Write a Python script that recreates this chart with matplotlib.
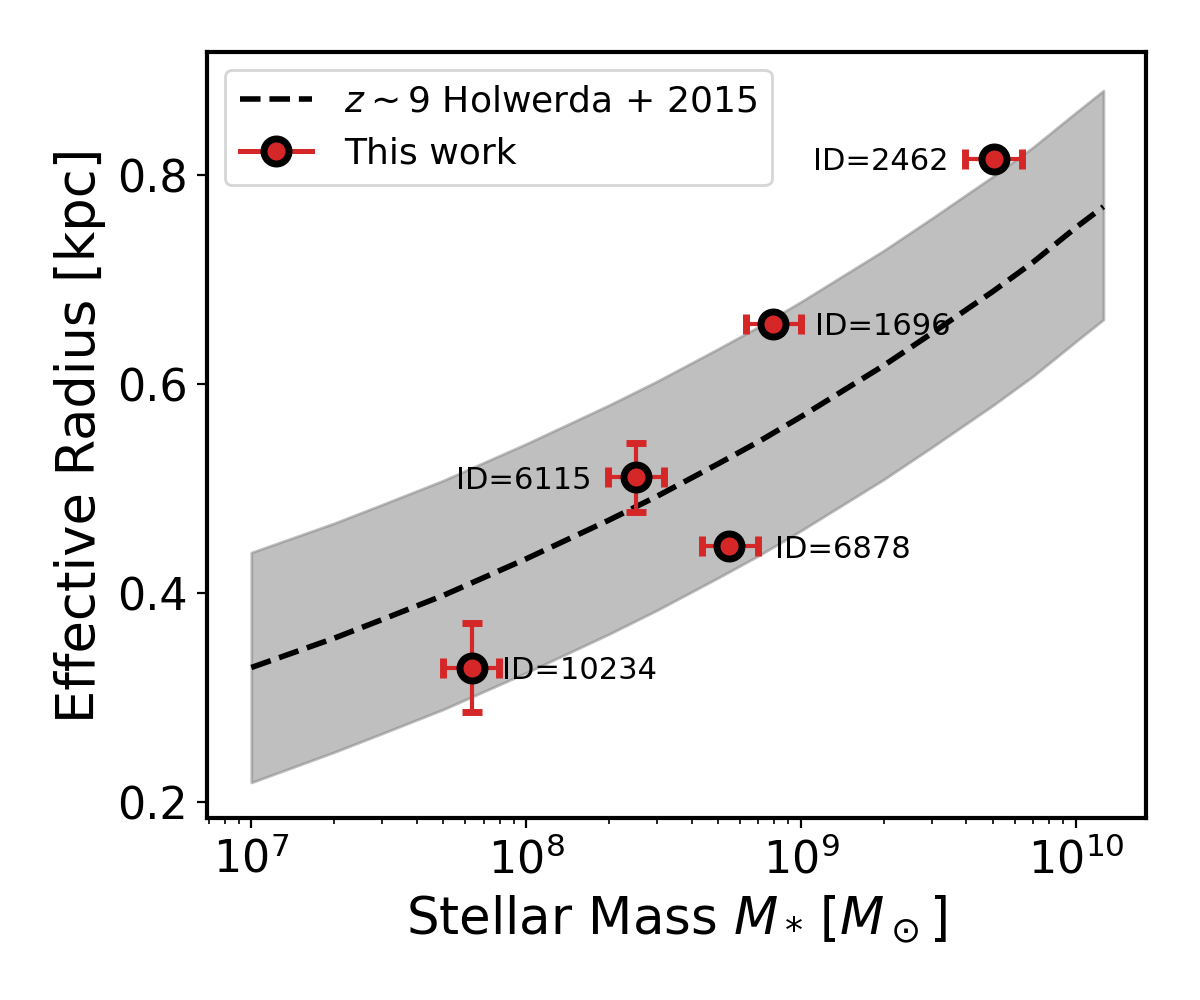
import numpy as np
import matplotlib
matplotlib.use("Agg")
import matplotlib.pyplot as plt

# Holwerda+2015 z~9 relation
rel_mass = [1e7, 2e7, 3e7, 5e7, 1e8, 2e8, 3e8, 5e8, 7e8, 1e9, 2e9, 3e9, 5e9, 7e9, 1e10, 1.26e10]
rel_radius = [0.329, 0.357, 0.375, 0.398, 0.433, 0.470, 0.493, 0.524, 0.545,
              0.569, 0.618, 0.649, 0.689, 0.717, 0.750, 0.770]
rel_upper = [0.439, 0.467, 0.485, 0.508, 0.543, 0.580, 0.603, 0.634, 0.655,
             0.679, 0.728, 0.759, 0.799, 0.827, 0.860, 0.881]
rel_lower = [0.219, 0.248, 0.266, 0.289, 0.324, 0.361, 0.384, 0.415, 0.436,
             0.460, 0.509, 0.540, 0.580, 0.608, 0.641, 0.662]

# our galaxies
ids = ["ID=10234", "ID=6115", "ID=1696", "ID=6878", "ID=2462"]
mass = [6.35e7, 2.51e8, 7.93e8, 5.48e8, 5.04e9]
mass_lo = [4.97e7, 1.98e8, 6.30e8, 4.37e8, 3.96e9]
mass_hi = [7.98e7, 3.18e8, 1.00e9, 6.96e8, 6.35e9]
radius = [0.329, 0.511, 0.658, 0.445, 0.816]
radius_err = [0.043, 0.033, 0.0, 0.0, 0.0]

# label offsets (points) and alignment
lab_dx = [11, -16, 15, 16.5, -16.5]
lab_ha = ["left", "right", "left", "left", "right"]

red = "#d62728"

fig = plt.figure(figsize=(6, 5), dpi=200)
ax = fig.add_axes([0.1725, 0.182, 0.7825, 0.766])

ax.fill_between(rel_mass, rel_lower, rel_upper, color="gray", alpha=0.5, lw=1)
ax.plot(rel_mass, rel_radius, "k--", lw=2, label=r"$z\sim9$ Holwerda + 2015")

for i in range(len(mass)):
    xe = [[mass[i] - mass_lo[i]], [mass_hi[i] - mass[i]]]
    ye = [radius_err[i]] if radius_err[i] > 0 else None
    ax.errorbar([mass[i]], [radius[i]], xerr=xe, yerr=ye, fmt="o", color=red,
                ms=9, mfc=red, mec="k", mew=2.5, elinewidth=1.5, capsize=3.5,
                capthick=1.5, zorder=3)
    ax.annotate(ids[i], (mass[i], radius[i]), xytext=(lab_dx[i], 0),
                textcoords="offset points", ha=lab_ha[i], va="center_baseline",
                fontsize=11)

# legend proxy for the data points
ax.plot([], [], "o-", color=red, ms=9, mfc=red, mec="k", mew=2.5, lw=1.8,
        label="This work")

ax.set_xscale("log")
ax.set_xlim(6.9e6, 1.8e10)
ax.set_ylim(0.185, 0.918)
ax.set_yticks([0.2, 0.4, 0.6, 0.8])
ax.tick_params(labelsize=16)
for s in ax.spines.values():
    s.set_linewidth(1.5)

ax.set_xlabel(r"Stellar Mass $M_*\,[M_\odot]$", fontsize=18.5)
ax.set_ylabel("Effective Radius [kpc]", fontsize=19)
ax.legend(loc="upper left", fontsize=13, handletextpad=0.9)

fig.savefig("out.png", dpi=200)
